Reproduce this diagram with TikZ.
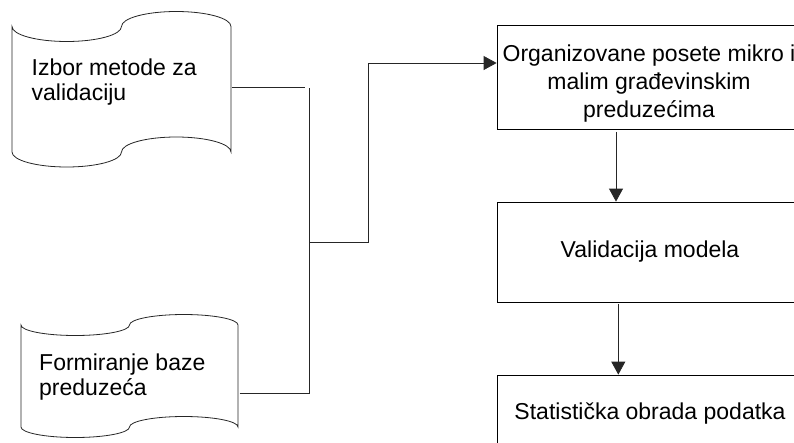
\documentclass[tikz,border=0pt]{standalone}
\usepackage{fontspec}
\setmainfont{Liberation Sans}
\usetikzlibrary{arrows.meta}
% punched tape outline: x0, x1, top baseline, bottom baseline, wave amplitude
\newcommand\tapeshape[5]{%
  \pgfmathsetmacro\tpa{#1}%
  \pgfmathsetmacro\tpr{((#2)-(#1))/4}%
  \pgfmathsetmacro\tpk{0.5523*\tpr}%
  \pgfmathsetmacro\tpt{#3}%
  \pgfmathsetmacro\tpb{#4}%
  \pgfmathsetmacro\tpy{#5}%
  \pgfmathsetmacro\tpq{0.5523*\tpy}%
  \draw[tapeline]
    (\tpa,\tpt)
    .. controls (\tpa,\tpt+\tpq) and (\tpa+\tpr-\tpk,\tpt+\tpy) .. (\tpa+\tpr,\tpt+\tpy)
    .. controls (\tpa+\tpr+\tpk,\tpt+\tpy) and (\tpa+2*\tpr,\tpt+\tpq) .. (\tpa+2*\tpr,\tpt)
    .. controls (\tpa+2*\tpr,\tpt-\tpq) and (\tpa+3*\tpr-\tpk,\tpt-\tpy) .. (\tpa+3*\tpr,\tpt-\tpy)
    .. controls (\tpa+3*\tpr+\tpk,\tpt-\tpy) and (\tpa+4*\tpr,\tpt-\tpq) .. (\tpa+4*\tpr,\tpt)
    -- (\tpa+4*\tpr,\tpb)
    .. controls (\tpa+4*\tpr,\tpb-\tpq) and (\tpa+3*\tpr+\tpk,\tpb-\tpy) .. (\tpa+3*\tpr,\tpb-\tpy)
    .. controls (\tpa+3*\tpr-\tpk,\tpb-\tpy) and (\tpa+2*\tpr,\tpb-\tpq) .. (\tpa+2*\tpr,\tpb)
    .. controls (\tpa+2*\tpr,\tpb+\tpq) and (\tpa+\tpr+\tpk,\tpb+\tpy) .. (\tpa+\tpr,\tpb+\tpy)
    .. controls (\tpa+\tpr-\tpk,\tpb+\tpy) and (\tpa,\tpb+\tpq) .. (\tpa,\tpb)
    -- cycle;%
}
\begin{document}
\begin{tikzpicture}[x=1pt,y=-1pt,
  tapeline/.style={line width=0.8pt, draw=black!85},
  box/.style={draw, line width=0.8pt, minimum width=306pt, inner sep=0pt,
    font=\fontsize{23}{28}\selectfont, align=center},
  boxtext/.style={inner sep=0pt, font=\fontsize{23}{28}\selectfont, align=center},
  lbl/.style={inner sep=0pt, font=\fontsize{23}{25.5}\selectfont, align=left, anchor=west},
  conn/.style={line width=0.8pt, draw=black!85},
  arr/.style={conn, -{Triangle[length=13pt,width=14pt]}}]
\clip (0,0) rectangle (794,442);

% left punched-tape shapes
\tapeshape{12}{231}{26.5}{152}{15}
\tapeshape{21}{238}{325}{427}{10.5}
\node[lbl] (s1) at (31.5,82) {Izbor metode za\\validaciju};
\node[lbl] (s2) at (39,377) {Formiranje baze\\preduzeća};
\coordinate (s1r) at (232,87);
\coordinate (s2r) at (239.5,393);

% right process boxes
\node[box, minimum height=104pt] (b1) at (650,77) {};
\node[boxtext] (t1) at (649,83.5) {Organizovane posete mikro i\\malim građevinskim\\preduzećima};
\node[box, minimum height=100pt] (b2) at (650,252) {Validacija modela};
\node[box, minimum height=77pt] (b3) at (650,413.5) {Statistička obrada podatka};

% junction connectors
\coordinate (j1) at (309.3,88);
\coordinate (j2) at (309.3,393);
\coordinate (jm) at (309.3,242);
\coordinate (j3) at (368,242);
\coordinate (j4) at (368,63);
\draw[conn] (s1r) -- (305,87);
\draw[conn] (s2r) -- (j2) -- (j1);
\draw[arr] (jm) -- (j3) -- (j4) -- (j4 -| b1.west);

% vertical flow arrows
\draw[arr] ([xshift=-34pt,yshift=-2.5pt]b1.south) -- ([xshift=-34pt]b2.north);
\draw[arr] ([xshift=-31.7pt,yshift=-1.5pt]b2.south) -- ([xshift=-31.7pt]b3.north);
\end{tikzpicture}
\end{document}
